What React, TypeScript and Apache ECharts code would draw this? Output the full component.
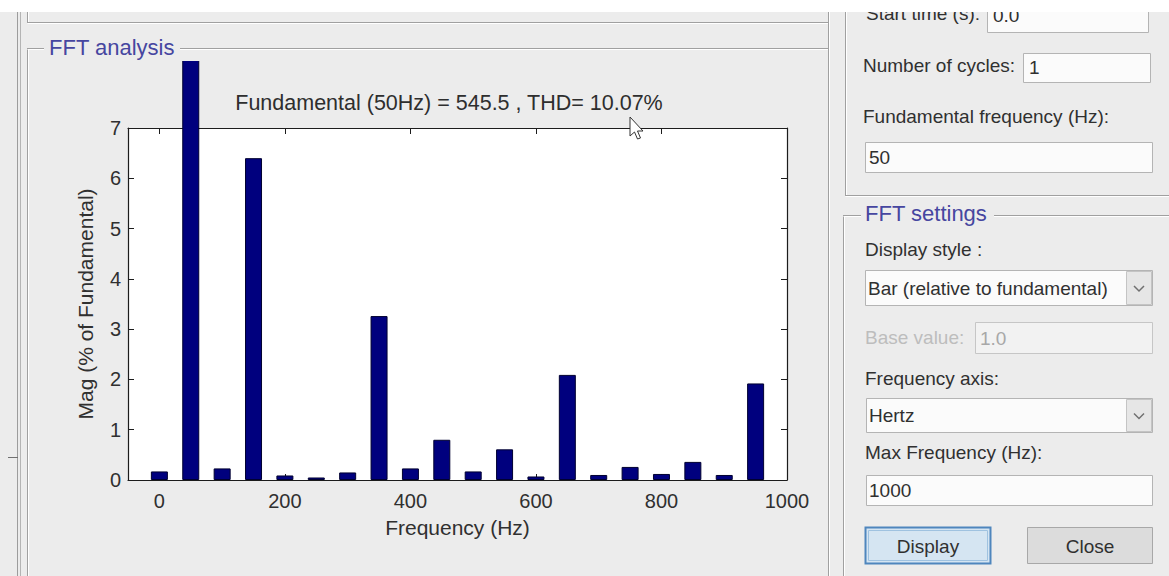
import React, { useEffect, useRef } from "react";
import * as echarts from "echarts";

// ---- data ----
const freqsHz = [0, 50, 100, 150, 200, 250, 300, 350, 400, 450, 500, 550, 600, 650, 700, 750, 800, 850, 900, 950];
const magPercent = [0.17, 100, 0.23, 6.4, 0.09, 0.05, 0.15, 3.26, 0.23, 0.8, 0.17, 0.61, 0.07, 2.09, 0.1, 0.26, 0.12, 0.36, 0.1, 1.92];
const xTickValues = [0, 200, 400, 600, 800, 1000];
const yTickValues = [0, 1, 2, 3, 4, 5, 6, 7];
const titleText = "Fundamental (50Hz) = 545.5 , THD= 10.07%";
const xAxisName = "Frequency (Hz)";
const yAxisName = "Mag (% of Fundamental)";
const panelTitles = ["FFT analysis", "FFT settings"];
const guiLabels = {
  startTime: "Start time (s):",
  cycles: "Number of cycles:",
  fundFreq: "Fundamental frequency (Hz):",
  displayStyle: "Display style :",
  baseValue: "Base value:",
  freqAxis: "Frequency axis:",
  maxFreq: "Max Frequency (Hz):",
};
const guiValues = {
  startTime: "0.0",
  cycles: "1",
  fundFreq: "50",
  displayStyle: "Bar (relative to fundamental)",
  baseValue: "1.0",
  freqAxis: "Hertz",
  maxFreq: "1000",
};
const buttonLabels = ["Display", "Close"];

const FONT = "'Liberation Sans', Arial, Helvetica, sans-serif";
const BG = "#ececec";
const TXT = "#303030";

function hline(x1: number, x2: number, y: number, color: string, z = 60) {
  return { type: "line", silent: true, z, shape: { x1, y1: y, x2, y2: y }, style: { stroke: color, lineWidth: 1 } };
}
function vline(x: number, y1: number, y2: number, color: string, z = 60) {
  return { type: "line", silent: true, z, shape: { x1: x, y1, x2: x, y2 }, style: { stroke: color, lineWidth: 1 } };
}
function etchedH(x1: number, x2: number, y: number) {
  return [hline(x1, x2, y, "#a0a0a0"), hline(x1, x2, y + 1, "#ffffff")];
}
function etchedV(x: number, y1: number, y2: number) {
  return [vline(x, y1, y2, "#a0a0a0"), vline(x + 1, y1, y2, "#ffffff")];
}
function txt(text: string, x: number, y: number, o: any = {}) {
  const align = o.align || "left";
  return {
    type: "text",
    silent: true,
    z: o.z || 70,
    x,
    y,
    style: {
      text,
      fontSize: o.size || 19,
      fontFamily: FONT,
      fontWeight: o.weight || "normal",
      fill: o.color || TXT,
      align,
      verticalAlign: "middle",
      textAlign: align,
      textVerticalAlign: "middle",
    },
  };
}
function box(x: number, y: number, w: number, h: number, o: any = {}) {
  return {
    type: "rect",
    silent: true,
    z: o.z || 65,
    shape: { x, y, width: w, height: h },
    style: { fill: o.fill || "#fbfbfb", stroke: o.stroke || "#b4b4b4", lineWidth: o.lw || 1 },
  };
}
function dropArrow(x: number, y: number, w: number, h: number) {
  const cx = x + w / 2;
  const cy = y + h / 2;
  return [
    box(x, y, w, h, { fill: "#e6e6e6", stroke: "#c4c4c4", z: 66 }),
    {
      type: "polyline",
      silent: true,
      z: 67,
      shape: { points: [[cx - 5, cy - 2], [cx, cy + 3], [cx + 5, cy - 2]] },
      style: { stroke: "#707070", lineWidth: 1.5, fill: null },
    },
  ];
}

export default function App() {
  const ref = useRef<HTMLDivElement>(null);

  useEffect(() => {
    if (!ref.current) return;
    const chart = echarts.init(ref.current, undefined, { renderer: "svg" });

    const gridLeft = 128;
    const gridTop = 128;
    const gridW = 659;
    const gridH = 352;

    const axisColor = "#1c1c1c";
    const graphic: any[] = [
      // hide the part of the fundamental bar that lies above the panel
      { type: "rect", silent: true, z: 50, shape: { x: 170, y: 0, width: 40, height: 61 }, style: { fill: BG } },

      // left window edges
      vline(17.5, 12, 576, "#9c9c9c"),
      vline(20.5, 12, 576, "#b4b4b4"),
      hline(8, 18, 457.5, "#707070"),

      // upper-left panel (cut off)
      ...etchedV(27.5, 12, 23),
      ...etchedH(27.5, 828.5, 22.5),
      // FFT analysis panel
      ...etchedV(27.5, 48, 576),
      ...etchedH(27.5, 44, 48.5),
      ...etchedH(180, 829, 48.5),
      ...etchedV(828.5, 12, 576),
      txt(panelTitles[0], 49, 47, { size: 22, color: "#4646a0" }),

      // right upper panel
      ...etchedV(845.5, 12, 196),
      ...etchedH(845.5, 1169, 195.5),
      // FFT settings panel
      ...etchedV(843.5, 215, 576),
      ...etchedH(843.5, 861, 215.5),
      ...etchedH(994, 1169, 215.5),
      txt(panelTitles[1], 865, 213, { size: 22, color: "#4646a0" }),

      // start time
      txt(guiLabels.startTime, 866, 13),
      box(987.5, 4.5, 161, 28),
      txt(guiValues.startTime, 993, 15),
      // number of cycles
      txt(guiLabels.cycles, 863, 65),
      box(1023.5, 53.5, 127, 29),
      txt(guiValues.cycles, 1029, 67),
      // fundamental frequency
      txt(guiLabels.fundFreq, 863, 116),
      box(865.5, 142.5, 287, 30),
      txt(guiValues.fundFreq, 869, 157),

      // display style
      txt(guiLabels.displayStyle, 865, 249),
      box(865.5, 270.5, 287, 35),
      txt(guiValues.displayStyle, 868, 288),
      ...dropArrow(1126.5, 271.5, 25, 33),
      // base value
      txt(guiLabels.baseValue, 865, 337, { color: "#bdbdbd" }),
      box(975.5, 322.5, 177, 31, { fill: "#f2f2f2", stroke: "#c6c6c6" }),
      txt(guiValues.baseValue, 980, 338, { color: "#a8a8a8" }),
      // frequency axis
      txt(guiLabels.freqAxis, 865, 378),
      box(866.5, 398.5, 286, 34),
      txt(guiValues.freqAxis, 869, 415),
      ...dropArrow(1126.5, 399.5, 25, 32),
      // max frequency
      txt(guiLabels.maxFreq, 865, 452),
      box(866.5, 475.5, 286, 30),
      txt(guiValues.maxFreq, 869, 490),

      // buttons
      box(865.5, 527.5, 125, 36, { fill: "#d5e5f2", stroke: "#4f86bd", lw: 2 }),
      box(868.5, 530.5, 119, 30, { fill: "none", stroke: "#9fc2e0", z: 66 }),
      txt(buttonLabels[0], 928, 546, { align: "center" }),
      box(1027.5, 527.5, 125, 36, { fill: "#dcdcdc", stroke: "#a8a8a8" }),
      txt(buttonLabels[1], 1090, 546, { align: "center" }),

      // chart title
      txt(titleText, 449, 103, { align: "center", size: 21.5, color: "#2e2e2e" }),

      // mouse cursor
      {
        type: "polygon",
        silent: true,
        z: 110,
        shape: {
          points: [[630, 117], [630, 136], [634.5, 132], [637.5, 139], [640.5, 138], [637.5, 131], [643, 131]],
        },
        style: { fill: "#ffffff", stroke: "#333333", lineWidth: 1 },
      },

      // white strip at the very top
      { type: "rect", silent: true, z: 100, shape: { x: 0, y: 0, width: 1169, height: 12 }, style: { fill: "#ffffff" } },
    ];

    const tickStyle = { lineStyle: { color: axisColor, width: 1 } };
    const plain = (v: number) => String(v);

    chart.setOption({
      animation: false,
      backgroundColor: BG,
      grid: {
        left: gridLeft,
        top: gridTop,
        width: gridW,
        height: gridH,
        show: true,
        backgroundColor: "#ffffff",
        borderWidth: 0,
      },
      xAxis: [
        {
          type: "value",
          position: "bottom",
          min: -50,
          max: 1000,
          axisLine: { show: true, onZero: false, lineStyle: { color: axisColor, width: 1.2 } },
          axisTick: { show: true, inside: true, length: 6, customValues: xTickValues, ...tickStyle },
          axisLabel: { customValues: xTickValues, formatter: plain, fontSize: 20, color: TXT, fontFamily: FONT, margin: 11 },
          splitLine: { show: false },
          name: xAxisName,
          nameLocation: "middle",
          nameGap: 37,
          nameTextStyle: { fontSize: 21, color: TXT, fontFamily: FONT },
        },
        {
          type: "value",
          position: "top",
          min: -50,
          max: 1000,
          axisLine: { show: true, onZero: false, lineStyle: { color: axisColor, width: 1.2 } },
          axisTick: { show: true, inside: true, length: 6, customValues: xTickValues, ...tickStyle },
          axisLabel: { show: false, customValues: xTickValues },
          splitLine: { show: false },
        },
      ],
      yAxis: [
        {
          type: "value",
          position: "left",
          min: yTickValues[0],
          max: yTickValues[yTickValues.length - 1],
          interval: 1,
          axisLine: { show: true, onZero: false, lineStyle: { color: axisColor, width: 1.2 } },
          axisTick: { show: true, inside: true, length: 6, ...tickStyle },
          axisLabel: { fontSize: 20, color: TXT, fontFamily: FONT, margin: 7, formatter: plain },
          splitLine: { show: false },
          name: yAxisName,
          nameLocation: "middle",
          nameRotate: 90,
          nameGap: 32,
          nameTextStyle: { fontSize: 21, color: TXT, fontFamily: FONT },
        },
        {
          type: "value",
          position: "right",
          min: yTickValues[0],
          max: yTickValues[yTickValues.length - 1],
          interval: 1,
          axisLine: { show: true, onZero: false, lineStyle: { color: axisColor, width: 1.2 } },
          axisTick: { show: true, inside: true, length: 6, ...tickStyle },
          axisLabel: { show: false },
          splitLine: { show: false },
        },
      ],
      series: [
        {
          type: "bar",
          xAxisIndex: 0,
          yAxisIndex: 0,
          clip: false,
          barWidth: 17,
          data: freqsHz.map((f, i) => [f, magPercent[i]]),
          itemStyle: { color: "#00007e", borderColor: "#000030", borderWidth: 1 },
        },
      ],
      graphic,
    });

    return () => chart.dispose();
  }, []);

  return (
    <div
      ref={ref}
      style={{ position: "absolute", left: 0, top: 0, width: 1169, height: 576 }}
    />
  );
}
